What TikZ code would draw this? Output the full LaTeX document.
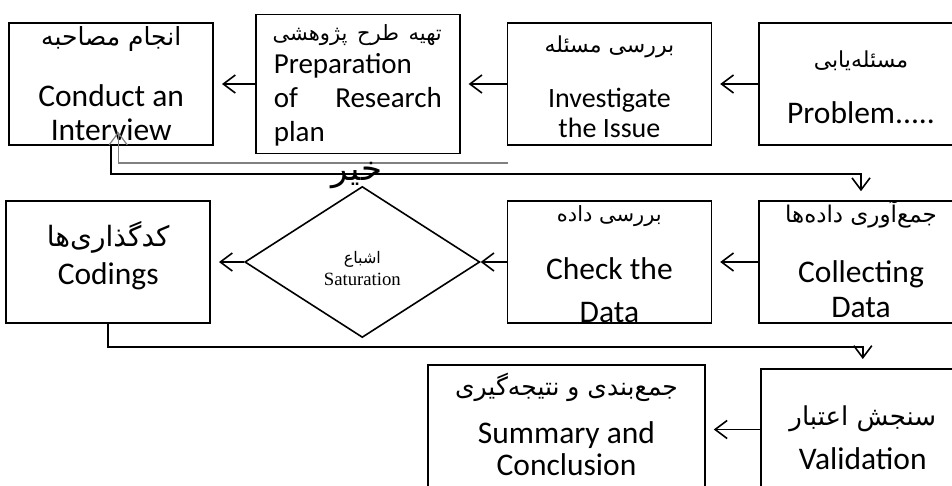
\documentclass[tikz,border=0pt]{standalone}
\usepackage{fontspec}
\setmainfont{Carlito}
\newfontfamily\farsi[Script=Arabic]{DejaVu Sans}
\newfontfamily\timesfont{Liberation Serif}
\TeXXeTstate=1
\usetikzlibrary{arrows.meta,positioning,shapes.geometric}
\newcommand\fa[2][28]{\smash{\farsi\fontsize{#1}{30}\selectfont\beginR #2\endR}}
\newcommand\fsz[1]{\fontsize{#1}{34}\selectfont}
\newcommand\up[1]{\rule{0pt}{#1}}      % height of first line
\newcommand\dn[1]{\rule[-#1]{0pt}{#1}} % depth of last line

\begin{document}
\begin{tikzpicture}[
        x=1pt, y=-1pt,
        node distance=46pt,
        stepbox/.style={draw, line width=1.6pt, minimum width=204pt, minimum height=122pt, inner sep=0pt, align=center, font=\fsz{31.5}},
        decision/.style={diamond, draw, line width=1.6pt, minimum width=235pt, minimum height=151pt, inner sep=0pt, align=center},
        arr/.style={-{Straight Barb[length=12pt,width=18pt]}, line width=1.6pt, shorten >=8pt}
    ]
    \path[use as bounding box, clip] (0,0) rectangle (952,485);

    % first row
    \node[stepbox] (prob) at (861,84) {\up{44pt}\fa[22]{مسئله‌یابی}\\[22pt] Problem.....\dn{22pt}};
    \node[stepbox, font=\fontsize{28}{30}\selectfont, left=of prob] (inv) {\up{29pt}\fa[22]{بررسی مسئله}\\[25pt] Investigate\\ the Issue\dn{8pt}};
    \node[stepbox, minimum height=139pt, text width=168pt, align=left, font=\fsz{29}, left=of inv] (prep) {\up{26pt}\makebox[168pt][r]{\fa[21]{تهیه طرح پژوهشی}}\\[-1pt] Preparation\\ \makebox[168pt]{of\hfill Research}\\ plan\dn{12pt}};
    \node[stepbox, left=41pt of prep] (iv) {\up{22pt}\fa[25]{انجام مصاحبه}\\[27pt] Conduct an\\ Interview\dn{5pt}};

    % second row
    \node[stepbox] (coll) at (861,262) {\up{21pt}\fa[23]{جمع‌آوری داده‌ها}\\[26pt] Collecting\\[1pt] Data\dn{6pt}};
    \node[stepbox, left=of coll] (chk) {\up{21pt}\fa[21]{بررسی داده}\\[24pt] Check the\\[9pt] Data};
    \node[decision, left=26pt of chk] (sat) {\up{25pt}\fa[16]{اشباع}\\[8pt]{\timesfont\fontsize{18.7}{22}\selectfont Saturation}};
    \node[stepbox, left=33pt of sat] (cod) {\up{45pt}\fa{کدگذاری‌ها}\\[4pt] Codings\dn{39pt}};

    % third row
    \node[stepbox, minimum width=204pt, minimum height=153pt, anchor=north west] (val) at (760,368) {\up{57pt}\fa[26]{سنجش اعتبار}\\[10pt] Validation\dn{52pt}};
    \node[stepbox, minimum width=277pt, minimum height=129pt] (sum) at (566.5,429.5) {\up{30pt}\fa[25]{جمع‌بندی و نتیجه‌گیری}\\[14pt] Summary and\\[-2pt] Conclusion\dn{19pt}};

    % connectors
    \draw[arr] (prob) -- (inv);
    \draw[arr] (inv) -- (prep);
    \draw[arr] (prep) -- (iv);
    \draw[arr, shorten >=9pt] (iv.south) -- ++(0,28) -| (coll.north);
    \coordinate (back) at (508,163);
    \draw[arr, gray, line width=1.2pt, shorten >=-14pt] (back) -| ([xshift=7pt]iv.south);
    \node[inner sep=0pt] (no) at (357,180) {\fa[34]{خیر}};
    \draw[arr] (coll) -- (chk);
    \draw[arr, shorten >=0pt] (chk) -- (sat);
    \draw[arr] (sat) -- (cod);
    \draw[arr, shorten >=9pt] (cod.south) -- ++(0,23) -| (val.north);
    \draw[arr] (val.west |- sum.east) -- (sum.east);
\end{tikzpicture}
\end{document}
